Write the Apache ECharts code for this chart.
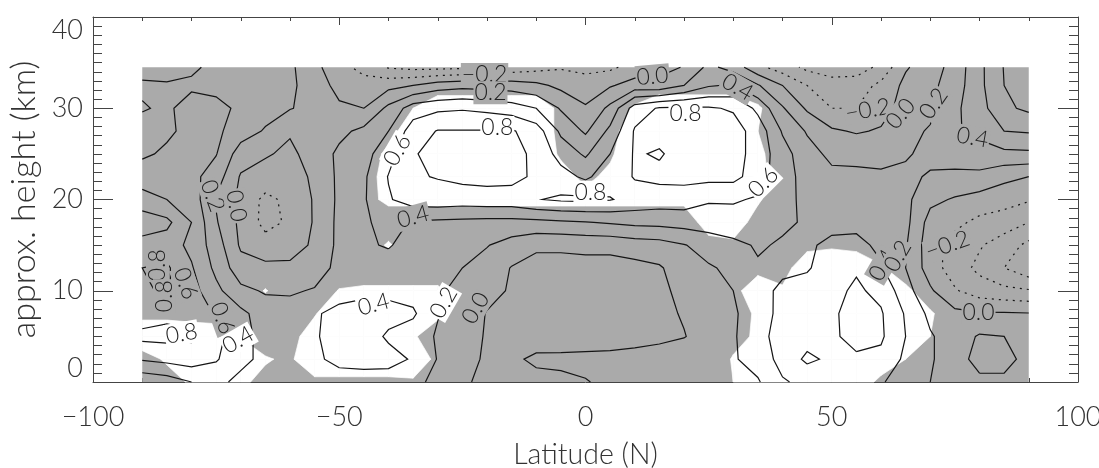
<!DOCTYPE html>
<html>
<head>
<meta charset="utf-8">
<script src="https://cdn.jsdelivr.net/npm/echarts@6/dist/echarts.min.js"></script>
<style>html,body{margin:0;padding:0;background:#fff}#c{width:1099px;height:468px}</style>
</head>
<body>
<div id="c"></div>
<script>
// ---------------- DATA ----------------
const latitudes = [-90,-85,-80,-75,-70,-65,-60,-55,-50,-45,-40,-35,-30,-25,-20,-15,-10,-5,0,5,10,15,20,25,30,35,40,45,50,55,60,65,70,75,80,85,90];
const heights = [0,2.5,5,7.5,10,12.5,15,17.5,20,22.5,25,27.5,30,32.5,34.5];
const contourLevels = [-0.8,-0.6,-0.4,-0.2,0.0,0.2,0.4,0.6,0.8];
const xTicks = [-100,-50,0,50,100];
const yTicks = [0,10,20,30,40];

// correlation, one row per height (bottom to top), columns follow latitudes
const correlation = [
 [0.25,0.3,0.4,0.45,0.35,0.3,0.25,0.28,0.3,0.3,0.3,0.28,0.12,0.03,-0.05,-0.06,-0.05,-0.04,-0.01,0.04,0.05,0.1,0.15,0.15,0.18,0.18,0.38,0.45,0.48,0.5,0.42,0.3,0.2,0.08,0.15,0.15,0.05],
 [0.62,0.66,0.7,0.62,0.45,0.35,0.3,0.36,0.46,0.48,0.47,0.38,0.19,0.05,-0.02,-0.03,0.03,0.04,0.05,0.06,0.08,0.1,0.14,0.14,0.18,0.28,0.47,0.64,0.56,0.58,0.55,0.36,0.22,0.1,0.28,0.28,0.12],
 [0.85,0.86,0.84,0.66,0.48,0.32,0.3,0.38,0.48,0.5,0.37,0.3,0.18,0.1,-0.02,-0.05,-0.08,-0.1,-0.1,-0.1,-0.08,-0.05,-0.01,0.1,0.18,0.32,0.5,0.52,0.58,0.64,0.63,0.4,0.22,0.1,0.22,0.2,0.08],
 [0.7,0.75,0.72,0.58,0.45,0.3,0.3,0.38,0.45,0.47,0.47,0.43,0.21,0.12,-0.01,-0.06,-0.1,-0.12,-0.12,-0.12,-0.1,-0.06,0.02,0.12,0.17,0.32,0.45,0.5,0.58,0.65,0.62,0.38,0.15,0.05,0.02,0.02,0.01],
 [0.78,0.82,0.68,0.45,0.25,0.18,0.17,0.22,0.33,0.36,0.35,0.32,0.23,0.14,0.06,-0.02,-0.1,-0.12,-0.12,-0.12,-0.1,-0.05,0.06,0.14,0.2,0.35,0.43,0.48,0.55,0.63,0.55,0.28,0.03,-0.18,-0.3,-0.35,-0.38],
 [0.8,0.83,0.62,0.35,0.08,0.05,0.04,0.08,0.27,0.33,0.3,0.27,0.26,0.2,0.12,-0.01,-0.08,-0.08,-0.08,-0.08,-0.06,-0.02,0.1,0.18,0.24,0.38,0.37,0.38,0.5,0.58,0.42,0.2,-0.1,-0.3,-0.45,-0.6,-0.75],
 [0.72,0.7,0.55,0.3,-0.03,-0.12,-0.08,0.03,0.25,0.37,0.42,0.3,0.3,0.28,0.21,0.12,0.04,0.04,0.06,0.06,0.1,0.12,0.19,0.28,0.35,0.42,0.38,0.38,0.43,0.45,0.36,0.22,-0.12,-0.28,-0.38,-0.5,-0.65],
 [0.92,0.85,0.6,0.22,-0.05,-0.26,-0.17,0.02,0.25,0.37,0.47,0.38,0.36,0.35,0.34,0.34,0.35,0.37,0.39,0.42,0.45,0.46,0.48,0.5,0.52,0.5,0.43,0.38,0.36,0.35,0.3,0.26,-0.08,-0.15,-0.25,-0.3,-0.4],
 [0.68,0.6,0.52,0.18,-0.05,-0.25,-0.15,0.02,0.24,0.38,0.58,0.7,0.72,0.7,0.72,0.72,0.79,0.83,0.84,0.81,0.74,0.7,0.7,0.62,0.62,0.58,0.45,0.36,0.3,0.3,0.28,0.25,0.05,-0.02,-0.08,-0.12,-0.18],
 [0.5,0.48,0.46,0.3,-0.02,-0.08,-0.1,0.04,0.24,0.37,0.61,0.78,0.81,0.85,0.86,0.85,0.77,0.68,0.56,0.72,0.81,0.85,0.86,0.86,0.86,0.7,0.48,0.33,0.25,0.24,0.22,0.24,0.18,0.15,0.15,0.05,0.0],
 [0.37,0.43,0.45,0.41,0.1,0.02,-0.04,0.08,0.24,0.33,0.52,0.79,0.84,0.87,0.88,0.86,0.76,0.52,0.37,0.6,0.82,0.78,0.88,0.88,0.88,0.72,0.48,0.28,0.15,0.15,0.16,0.18,0.25,0.3,0.32,0.35,0.36],
 [0.35,0.37,0.45,0.44,0.3,0.18,0.02,0.12,0.15,0.25,0.4,0.7,0.81,0.81,0.81,0.82,0.7,0.36,0.17,0.45,0.82,0.87,0.88,0.88,0.88,0.72,0.38,0.18,0.03,-0.02,0.02,0.14,0.22,0.38,0.45,0.6,0.62],
 [0.41,0.38,0.45,0.46,0.36,0.28,0.21,0.14,0.03,0.0,0.25,0.5,0.56,0.58,0.55,0.5,0.4,0.18,0.02,0.25,0.7,0.82,0.83,0.82,0.78,0.55,0.22,-0.03,-0.2,-0.2,-0.08,0.08,0.15,0.36,0.52,0.76,0.84],
 [0.38,0.39,0.38,0.34,0.31,0.29,0.24,0.1,-0.06,-0.1,-0.06,0.0,0.1,0.14,0.12,0.1,0.05,-0.05,-0.1,-0.02,0.08,0.06,0.2,0.38,0.42,0.22,0.0,-0.2,-0.3,-0.3,-0.15,0.05,0.15,0.3,0.55,0.8,0.86],
 [0.45,0.44,0.42,0.37,0.33,0.3,0.24,0.05,-0.12,-0.28,-0.42,-0.46,-0.46,-0.44,-0.4,-0.32,-0.27,-0.22,-0.26,-0.24,-0.12,-0.06,0.01,0.25,0.12,-0.15,-0.3,-0.45,-0.52,-0.5,-0.35,-0.02,0.1,0.28,0.55,0.81,0.85]
];

// significance (white where >= 0.5), same layout as correlation
const significance = [
 [0,0.2,0.6,0.6,0.6,0.35,0.35,0.35,0.35,0.35,0.35,0.4,0.3,0,0,0,0,0,0,0,0,0,0,0,0.5,1,1,1,1,1,0.3,0,0,0,0,0,0],
 [0.2,0.6,1,1,1,0.55,0.4,1,1,1,1,1,0.3,0,0,0,0,0,0,0,0,0,0,0.1,0.55,1,1,1,1,1,1,0.5,0,0,0,0,0],
 [1,1,1,1,0.45,0.2,0.3,0.8,1,1,1,0.6,0,0,0,0,0,0,0,0,0,0,0,0,0.3,0.6,1,1,1,1,1,1,0.5,0,0,0,0],
 [0.3,0.3,0.2,0.1,0,0,0,0.45,1,1,1,1,0.7,0,0,0,0,0,0,0,0,0,0,0,0.2,0.6,1,1,1,1,1,1,0.6,0,0,0,0],
 [0,0,0,0,0,0.55,0,0,0.55,0.65,0.65,0.65,0.65,0.1,0,0,0,0,0,0,0,0,0,0,0.3,0.9,0.6,1,1,1,1,0.7,0,0,0,0,0],
 [0,0,0,0,0,0,0,0,0,0,0,0,0,0,0,0,0,0,0,0,0,0,0,0,0,0.3,0.2,1,1,1,0.6,0,0,0,0,0,0],
 [0,0,0,0,0,0,0,0,0,0,0.6,0,0,0,0,0,0,0,0,0,0,0,0,0.2,0.35,0,0,0.3,0.4,0.3,0,0,0,0,0,0,0],
 [0,0,0,0,0,0,0,0,0,0,0,0,0,0,0,0,0,0,0,0,0,0,0,0.9,0.9,0.2,0,0,0,0,0,0,0,0,0,0,0],
 [0,0,0,0,0,0,0,0,0,0.2,0.7,0.7,0.7,0.7,0.7,0.7,0.7,0.7,0.7,0.7,0.7,0.7,0.7,1,1,0.6,0,0,0,0,0,0,0,0,0,0,0],
 [0,0,0,0,0,0,0,0,0,0.1,0.85,1,1,1,1,1,1,0.75,0.35,0.65,1,1,1,1,1,0.75,0.1,0,0,0,0,0,0,0,0,0,0],
 [0,0,0,0,0,0,0,0,0,0,0.7,1,1,1,1,1,1,0.4,0,0.4,1,1,1,1,1,0.7,0,0,0,0,0,0,0,0,0,0,0],
 [0,0,0,0,0,0,0,0,0,0,0.2,1,1,1,1,1,1,0.3,0,0.2,1,1,1,1,1,0.5,0,0,0,0,0,0,0,0,0,0,0],
 [0,0,0,0,0,0,0,0,0,0,0,0.5,1,1,1,1,1,0.3,0,0,0.6,1,1,1,1,0.6,0,0,0,0,0,0,0,0,0,0,0],
 [0,0,0,0,0,0,0,0,0,0,0,0,0.1,0.1,0.1,0.1,0.1,0,0,0,0,0.15,0.15,0.15,0.15,0,0,0,0,0,0,0,0,0,0,0,0],
 [0,0,0,0,0,0,0,0,0,0,0,0,0,0,0,0,0,0,0,0,0,0,0,0,0,0,0,0,0,0,0,0,0,0,0,0,0]
];

// contour labels: text, latitude, height, rotation (deg, counter-clockwise)
const contourLabels = [
 ['\u22120.2',-20.5,33.7,0], ['0.2',-19.3,31.7,0], ['0.0',13.6,33.5,5], ['0.4',30.9,32.3,-30],
 ['0.8',-17.9,27.9,0], ['0.6',-38.2,25.4,60], ['0.8',20.3,29.4,0], ['0.6',36.1,21.9,45],
 ['0.8',1,20.8,0], ['0.4',-35,18.1,15], ['0.2',-75.7,20.4,-70], ['0.0',-70.9,19.3,-80],
 ['\u22120.2',57.3,29.8,10], ['0.0',64,29.4,50], ['0.2',70.7,30.5,55], ['0.4',78.6,26.8,-10],
 ['\u22120.2',73.5,15,20], ['0.0',79.8,7.6,0], ['0.4',60.3,12.8,60], ['0.2',63.4,13.8,60],
 ['0.4',-43,8.5,15], ['0.2',-28.8,8.7,60], ['0.0',-22.3,8.1,60],
 ['0.8',-86.9,12.8,90], ['0.8',-85.5,9.4,90], ['0.6',-81.2,10.8,-70], ['0.8',-82,5.3,10],
 ['0.6',-73.7,7,-70], ['0.4',-70.5,4.6,30]
];

// ---------------- GEOMETRY (marching squares) ----------------
const GRAY = '#aaaaaa';
const FONT = "Lato, 'DejaVu Sans', sans-serif";
const FW = 300;
const nx = latitudes.length, ny = heights.length;

function interp(p, q, L) {
  let A = p, B = q;
  if (A[0] > B[0] || (A[0] === B[0] && A[1] > B[1])) { A = q; B = p; }
  const t = (L - A[2]) / (B[2] - A[2]);
  return [A[0] + t * (B[0] - A[0]), A[1] + t * (B[1] - A[1])];
}
function cellCorners(grid, i, j) {
  return [
    [latitudes[i], heights[j], grid[j][i]],
    [latitudes[i+1], heights[j], grid[j][i+1]],
    [latitudes[i+1], heights[j+1], grid[j+1][i+1]],
    [latitudes[i], heights[j+1], grid[j+1][i]]
  ];
}
function chain(segs) {
  const key = p => p[0].toFixed(6) + ',' + p[1].toFixed(6);
  const map = new Map();
  segs.forEach((s, idx) => {
    [key(s[0]), key(s[1])].forEach(k => { if (!map.has(k)) map.set(k, []); map.get(k).push(idx); });
  });
  const used = new Array(segs.length).fill(false);
  const lines = [];
  for (let s = 0; s < segs.length; s++) {
    if (used[s]) continue;
    used[s] = true;
    const line = [segs[s][0], segs[s][1]];
    for (const dir of [1, -1]) {
      while (true) {
        const end = dir === 1 ? line[line.length - 1] : line[0];
        const ek = key(end);
        const cands = (map.get(ek) || []).filter(i => !used[i]);
        if (!cands.length) break;
        const n = cands[0]; used[n] = true;
        const sg = segs[n];
        const other = key(sg[0]) === ek ? sg[1] : sg[0];
        if (dir === 1) line.push(other); else line.unshift(other);
      }
    }
    lines.push(line);
  }
  return lines;
}
function contourLines(grid, level) {
  const L = level + 1e-7;
  const segs = [];
  for (let j = 0; j < ny - 1; j++) for (let i = 0; i < nx - 1; i++) {
    const P = cellCorners(grid, i, j);
    const ep = [];
    for (let e = 0; e < 4; e++) {
      const p = P[e], q = P[(e + 1) % 4];
      ep[e] = ((p[2] >= L) !== (q[2] >= L)) ? interp(p, q, L) : null;
    }
    const idx = [0,1,2,3].filter(e => ep[e]);
    if (idx.length === 2) segs.push([ep[idx[0]], ep[idx[1]]]);
    else if (idx.length === 4) {
      const c = (P[0][2] + P[1][2] + P[2][2] + P[3][2]) / 4;
      if ((c >= L) === (P[0][2] >= L)) { segs.push([ep[0], ep[1]]); segs.push([ep[2], ep[3]]); }
      else { segs.push([ep[3], ep[0]]); segs.push([ep[1], ep[2]]); }
    }
  }
  return chain(segs);
}
function maskPolygons(grid, T) {
  const polys = [];
  for (let j = 0; j < ny - 1; j++) for (let i = 0; i < nx - 1; i++) {
    const P = cellCorners(grid, i, j);
    const ins = P.map(p => p[2] >= T);
    const n = ins.filter(Boolean).length;
    if (n === 0) continue;
    const ep = [];
    for (let e = 0; e < 4; e++) {
      const p = P[e], q = P[(e + 1) % 4];
      ep[e] = (ins[e] !== ins[(e + 1) % 4]) ? interp(p, q, T) : null;
    }
    const nCross = ep.filter(Boolean).length;
    const c = (P[0][2] + P[1][2] + P[2][2] + P[3][2]) / 4;
    if (nCross === 4 && c < T) {
      for (let k = 0; k < 4; k++) if (ins[k]) polys.push([ep[(k + 3) % 4], [P[k][0], P[k][1]], ep[k]]);
      continue;
    }
    const poly = [];
    for (let e = 0; e < 4; e++) {
      if (ins[e]) poly.push([P[e][0], P[e][1]]);
      if (ep[e]) poly.push(ep[e]);
    }
    polys.push(poly);
  }
  return polys;
}
function sampleGrid(grid, lat, h) {
  let i = 0; while (i < nx - 2 && latitudes[i + 1] < lat) i++;
  let j = 0; while (j < ny - 2 && heights[j + 1] < h) j++;
  const tx = Math.min(1, Math.max(0, (lat - latitudes[i]) / (latitudes[i + 1] - latitudes[i])));
  const ty = Math.min(1, Math.max(0, (h - heights[j]) / (heights[j + 1] - heights[j])));
  const a = grid[j][i], b = grid[j][i + 1], c = grid[j + 1][i + 1], d = grid[j + 1][i];
  return a * (1 - tx) * (1 - ty) + b * tx * (1 - ty) + c * tx * ty + d * (1 - tx) * ty;
}

const whitePolys = maskPolygons(significance, 0.5);
const lines = [];
contourLevels.forEach(lv => contourLines(correlation, lv).forEach(pts => lines.push({ level: lv, pts })));

// ---------------- CHART ----------------
const chart = echarts.init(document.getElementById('c'));
const axisColor = '#444';
const tickStyle = { fontSize: 27, color: '#333', fontFamily: FONT, fontWeight: FW };
const xNameStyle = { fontSize: 28.5, color: '#333', fontFamily: FONT, fontWeight: FW };
const yNameStyle = { fontSize: 34, color: '#333', fontFamily: FONT, fontWeight: FW };
const fmt = v => (v < 0 ? '\u2212' + Math.abs(v) : String(v));

const option = {
  animation: false,
  grid: { left: 93, right: 21, top: 17, bottom: 86, containLabel: false, outerBoundsMode: 'none' },
  xAxis: [
    { type: 'value', min: xTicks[0], max: xTicks[xTicks.length - 1], interval: 50, position: 'bottom',
      axisLine: { onZero: false, lineStyle: { color: axisColor, width: 1 } },
      axisTick: { inside: true, length: 8, lineStyle: { color: axisColor } },
      minorTick: { show: true, splitNumber: 5, length: 4, lineStyle: { color: axisColor } },
      splitLine: { show: false }, minorSplitLine: { show: false },
      axisLabel: Object.assign({ margin: 22, formatter: fmt }, tickStyle),
      name: 'Latitude (N)', nameLocation: 'middle', nameGap: 58, nameTextStyle: xNameStyle },
    { type: 'value', min: xTicks[0], max: xTicks[xTicks.length - 1], interval: 50, position: 'top',
      axisLine: { onZero: false, lineStyle: { color: axisColor, width: 1 } },
      axisTick: { inside: true, length: 8, lineStyle: { color: axisColor } },
      minorTick: { show: true, splitNumber: 5, length: 4, lineStyle: { color: axisColor } },
      splitLine: { show: false }, axisLabel: { show: false } }
  ],
  yAxis: [
    { type: 'value', min: yTicks[0], max: yTicks[yTicks.length - 1], interval: 10, position: 'left',
      axisLine: { show: true, onZero: false, lineStyle: { color: axisColor, width: 1 } },
      axisTick: { show: true, inside: true, length: 20, lineStyle: { color: axisColor } },
      minorTick: { show: true, splitNumber: 10, length: 9, lineStyle: { color: axisColor } },
      splitLine: { show: false },
      axisLabel: Object.assign({ margin: 10, verticalAlignMinLabel: 'bottom', verticalAlignMaxLabel: 'top' }, tickStyle),
      name: 'approx. height (km)', nameLocation: 'middle', nameGap: 46, nameRotate: 90, nameTextStyle: yNameStyle },
    { type: 'value', min: yTicks[0], max: yTicks[yTicks.length - 1], interval: 10, position: 'right',
      axisLine: { show: true, onZero: false, lineStyle: { color: axisColor, width: 1 } },
      axisTick: { show: true, inside: true, length: 20, lineStyle: { color: axisColor } },
      minorTick: { show: true, splitNumber: 10, length: 9, lineStyle: { color: axisColor } },
      splitLine: { show: false }, axisLabel: { show: false } }
  ],
  series: [
    { type: 'custom', z: 1, data: [[0, 0]], silent: true,
      renderItem: (params, api) => {
        const p0 = api.coord([latitudes[0], heights[0]]);
        const p1 = api.coord([latitudes[nx - 1], heights[ny - 1]]);
        return { type: 'rect', shape: { x: p0[0], y: p1[1], width: p1[0] - p0[0], height: p0[1] - p1[1] }, style: { fill: GRAY } };
      } },
    { type: 'custom', z: 2, data: [[0, 0]], silent: true,
      renderItem: (params, api) => ({ type: 'group', children: whitePolys.map(poly => ({
        type: 'polygon', shape: { points: poly.map(p => api.coord(p)) },
        style: { fill: '#ffffff', stroke: '#ffffff', lineWidth: 0.7 } })) }) },
    { type: 'custom', z: 3, data: [[0, 0]], silent: true,
      renderItem: (params, api) => ({ type: 'group', children: lines.map(cl => ({
        type: 'polyline', shape: { points: cl.pts.map(p => api.coord(p)) },
        style: { fill: null, stroke: '#151515', lineWidth: 1.2, lineDash: cl.level < 0 ? [2, 5] : null } })) }) },
    { type: 'custom', z: 4, data: [[0, 0]], silent: true,
      renderItem: (params, api) => ({ type: 'group', children: contourLabels.map(lb => {
        const pt = api.coord([lb[1], lb[2]]);
        const bg = sampleGrid(significance, lb[1], lb[2]) >= 0.5 ? '#ffffff' : GRAY;
        return { type: 'text', x: pt[0], y: pt[1], rotation: lb[3] * Math.PI / 180,
          style: { text: lb[0], x: 0, y: 0, align: 'center', verticalAlign: 'middle',
            fill: '#222', font: FW + ' 23px ' + FONT, backgroundColor: bg, padding: [0, 1] } };
      }) }) }
  ]
};
chart.setOption(option);
</script>
</body>
</html>
